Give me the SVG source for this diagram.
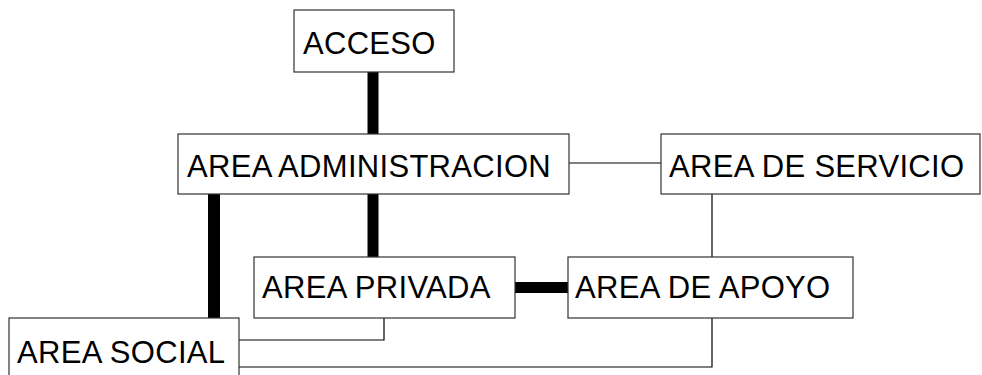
<svg xmlns="http://www.w3.org/2000/svg" width="982" height="375" viewBox="0 0 982 375">
<style>
.box{fill:#fff;stroke:#333;stroke-width:1.2}
.lbl{font-family:"Liberation Sans",Arial,sans-serif;font-size:31px;fill:#000;letter-spacing:0.3px}
.thick{stroke:#000;stroke-width:11;fill:none}
.thin{stroke:#000;stroke-width:1.2;fill:none}
</style>
<rect width="982" height="375" fill="#fff"/>
<g id="connectors">
<line class="thick" x1="373" y1="72" x2="373" y2="134"/>
<line class="thick" x1="214" y1="194" x2="214" y2="318" style="stroke-width:12"/>
<line class="thick" x1="373" y1="194" x2="373" y2="257"/>
<line class="thick" x1="515" y1="287.5" x2="568" y2="287.5"/>
<line class="thin" x1="569" y1="163" x2="661" y2="163"/>
<line class="thin" x1="712" y1="194" x2="712" y2="257"/>
<polyline class="thin" points="384,318 384,340 239,340"/>
<polyline class="thin" points="712,318 712,367 239,367"/>
</g>
<g id="acceso">
<rect class="box" x="294" y="10" width="160" height="62"/>
<text class="lbl" x="303" y="54">ACCESO</text>
</g>
<g id="admin">
<rect class="box" x="178" y="134" width="391" height="60"/>
<text class="lbl" x="187" y="177">AREA ADMINISTRACION</text>
</g>
<g id="servicio">
<rect class="box" x="661" y="134" width="319" height="60"/>
<text class="lbl" x="669" y="177">AREA DE SERVICIO</text>
</g>
<g id="privada">
<rect class="box" x="254" y="257" width="261" height="61"/>
<text class="lbl" x="262" y="298">AREA PRIVADA</text>
</g>
<g id="apoyo">
<rect class="box" x="568" y="257" width="285" height="61"/>
<text class="lbl" x="575" y="298">AREA DE APOYO</text>
</g>
<g id="social">
<rect class="box" x="9" y="318" width="230" height="80"/>
<text class="lbl" x="17" y="363">AREA SOCIAL</text>
</g>
</svg>
